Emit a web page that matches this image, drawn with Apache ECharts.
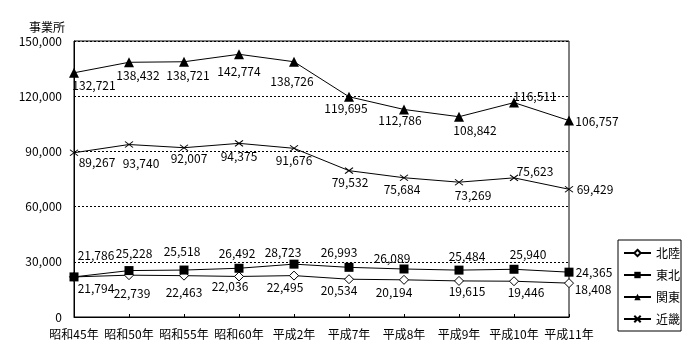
<!DOCTYPE html>
<html>
<head>
<meta charset="utf-8">
<script src="https://cdn.jsdelivr.net/npm/echarts@6/dist/echarts.min.js"></script>
<style>html,body{margin:0;padding:0;background:#fff;}#c{width:700px;height:360px;}</style>
</head>
<body>
<div id="c"></div>
<script>
const categories = ['昭和45年','昭和50年','昭和55年','昭和60年','平成2年','平成7年','平成8年','平成9年','平成10年','平成11年'];
const hokuriku = [21794, 22739, 22463, 22036, 22495, 20534, 20194, 19615, 19446, 18408];
const tohoku   = [21786, 25228, 25518, 26492, 28723, 26993, 26089, 25484, 25940, 24365];
const kanto    = [132721, 138432, 138721, 142774, 138726, 119695, 112786, 108842, 116511, 106757];
const kinki    = [89267, 93740, 92007, 94375, 91676, 79532, 75684, 73269, 75623, 69429];
const yTicks = [0, 30000, 60000, 90000, 120000, 150000];

// label nudges (pixels, relative to marker centre)
const offHokuriku = [[22,12],[3,18],[0,17],[-9,10],[-9,12],[-10,11],[-10,13],[8,11],[12,11],[24,6]];
const offTohoku   = [[22,-21],[5,-17],[-2,-19],[-2,-15],[-11,-12],[-10,-15],[-12,-11],[8,-14],[14,-15],[25,0]];
const offKanto    = [[20,13],[9,13],[4,14],[0,17],[-2,20],[-3,12],[-4,11],[16,14],[21,-6],[28,1]];
const offKinki    = [[23,10],[12,19],[5,11],[0,13],[0,12],[1,12],[-2,12],[14,13],[21,-6],[26,0]];

const FONT = '"Noto Sans CJK JP", "Noto Sans", sans-serif';
const fmt = v => Number(v).toLocaleString('en-US');

function build(vals, offs) {
  return vals.map((v, i) => ({
    value: v,
    label: { show: true, position: 'inside', offset: offs[i], formatter: p => fmt(p.value),
             color: '#000', fontSize: 12, fontFamily: FONT }
  }));
}

function series(name, vals, offs, symbol, size, itemStyle) {
  return {
    name, type: 'line', data: build(vals, offs), symbol, symbolSize: size,
    showAllSymbol: true, animation: false,
    lineStyle: { color: '#000', width: 1 },
    itemStyle: Object.assign({ opacity: 1 }, itemStyle),
    emphasis: { disabled: true }
  };
}

const chart = echarts.init(document.getElementById('c'), null, { renderer: 'canvas' });
chart.setOption({
  backgroundColor: '#fff',
  animation: false,
  textStyle: { fontFamily: FONT, color: '#000' },
  grid: { left: 74, right: 131, top: 41, bottom: 43, show: true, borderColor: '#000', borderWidth: 1, backgroundColor: 'transparent' },
  legend: {
    orient: 'vertical', left: 618, top: 240,
    padding: [7, 1, 6, 5],
    itemGap: 10, itemWidth: 27, itemHeight: 8,
    borderColor: '#000', borderWidth: 1,
    textStyle: { fontSize: 12, fontFamily: FONT, color: '#000' },
    itemTextGap: 4,
    data: ['北陸', '東北', '関東', '近畿']
  },
  xAxis: {
    type: 'category', data: categories, boundaryGap: false,
    axisLine: { lineStyle: { color: '#000', width: 1 } },
    axisTick: { inside: true, length: 3, lineStyle: { color: '#000' } },
    axisLabel: { color: '#000', fontSize: 12, fontFamily: FONT, margin: 11, interval: 0 },
    splitLine: { show: false }
  },
  yAxis: {
    type: 'value', min: yTicks[0], max: yTicks[yTicks.length - 1], interval: yTicks[1] - yTicks[0],
    name: '事業所', nameLocation: 'end', nameGap: 8,
    nameTextStyle: { color: '#000', fontSize: 12, fontFamily: FONT, align: 'right', padding: [0, 9, 0, 0] },
    axisLine: { show: true, lineStyle: { color: '#000', width: 1 } },
    axisTick: { show: false },
    axisLabel: { color: '#000', fontSize: 12, fontFamily: FONT, margin: 12, formatter: v => fmt(v) },
    splitLine: { show: true, lineStyle: { color: '#000', width: 1, type: [2, 2] } }
  },
  series: [
    series('北陸', hokuriku, offHokuriku, 'diamond', 9, { color: '#fff', borderColor: '#000', borderWidth: 1 }),
    series('東北', tohoku, offTohoku, 'rect', 9, { color: '#000', borderColor: '#000', borderWidth: 0 }),
    series('関東', kanto, offKanto, 'triangle', 10, { color: '#000', borderColor: '#000', borderWidth: 0 }),
    series('近畿', kinki, offKinki, 'path://M0,0L10,8M10,0L0,8', [8, 6], { color: 'rgba(0,0,0,0)', borderColor: '#000', borderWidth: 1 })
  ]
});
</script>
</body>
</html>
